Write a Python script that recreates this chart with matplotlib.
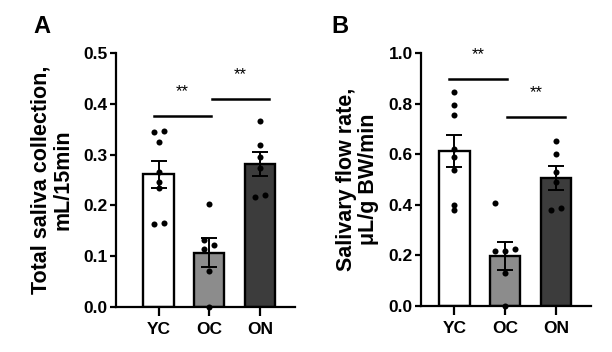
import numpy as np
import matplotlib
matplotlib.use("Agg")
import matplotlib.pyplot as plt

plt.rcParams['font.family'] = ['Liberation Sans', 'DejaVu Sans']
plt.rcParams['font.weight'] = 'bold'

# -----------------------------
# Data
# -----------------------------
groups = ['YC', 'OC', 'ON']
bar_colors = ['#ffffff', '#8c8c8c', '#3c3c3c']

# Panel A: total saliva collection (mL/15min)
a_yc = [0.344, 0.346, 0.324, 0.266, 0.247, 0.234, 0.163, 0.165]
a_oc = [0.203, 0.132, 0.122, 0.114, 0.070, 0.0]
a_on = [0.367, 0.319, 0.295, 0.273, 0.217, 0.220]
a_means = [0.261, 0.107, 0.282]
a_sem = [0.027, 0.028, 0.024]
a_jit = [[-0.1, 0.1, 0, 0, 0, 0, -0.1, 0.1],
         [0, -0.1, 0.1, -0.1, 0, 0],
         [0, 0, 0, 0, -0.1, 0.1]]

# Panel B: salivary flow rate (uL/g BW/min)
b_yc = [0.846, 0.795, 0.756, 0.620, 0.588, 0.538, 0.400, 0.380]
b_oc = [0.406, 0.219, 0.224, 0.219, 0.132, 0.0]
b_on = [0.654, 0.600, 0.531, 0.492, 0.380, 0.387]
b_means = [0.613, 0.198, 0.506]
b_sem = [0.062, 0.054, 0.046]
b_jit = [[0, 0, 0, 0, 0, 0, 0, 0],
         [-0.2, 0, 0.2, -0.2, 0, 0],
         [0, 0, 0, 0, -0.1, 0.1]]

# -----------------------------
# Figure
# -----------------------------
fig = plt.figure(figsize=(6.12, 3.52), dpi=100)
axA = fig.add_axes([0.1895, 0.128, 0.2925, 0.721])
axB = fig.add_axes([0.688, 0.1307, 0.278, 0.718])


def draw_panel(ax, points, means, sems, jit, ymax, step, xlim, ylabel, labelpad):
    x = np.arange(len(groups))
    ax.bar(x, means, width=0.6, color=bar_colors, edgecolor='black',
           linewidth=1.7, zorder=1)
    ax.errorbar(x, means, yerr=sems, fmt='none', ecolor='black',
                elinewidth=1.4, capsize=5.8, capthick=1.4, zorder=3)
    for i, pts in enumerate(points):
        ax.scatter(np.array(jit[i]) + i, pts, s=19, color='black',
                   linewidths=0, zorder=4, clip_on=False)
    ax.set_xlim(*xlim)
    ax.set_ylim(0, ymax)
    ticks = np.arange(0, ymax + step / 2, step)
    ax.set_yticks(ticks)
    ax.set_yticklabels([f"{v:.1f}" for v in ticks])
    ax.set_xticks(x)
    ax.set_xticklabels(groups)
    for s in ['top', 'right']:
        ax.spines[s].set_visible(False)
    for s in ['left', 'bottom']:
        ax.spines[s].set_linewidth(1.6)
    ax.tick_params(width=1.6, length=4.5, labelsize=12.5, pad=1.5)
    ax.tick_params(axis='x', length=6.5, pad=4)
    ax.set_ylabel(ylabel, fontsize=15.5, fontweight='bold', labelpad=labelpad,
                  linespacing=1.05)


draw_panel(axA, [a_yc, a_oc, a_on], a_means, a_sem, a_jit, 0.5, 0.1,
           (-0.84, 2.69), "Total saliva collection,\nmL/15min", 7)
draw_panel(axB, [b_yc, b_oc, b_on], b_means, b_sem, b_jit, 1.0, 0.2,
           (-0.655, 2.69), "Salivary flow rate,\nμL/g BW/min", 7)

# significance lines
def sig(ax, x0, x1, y, ty):
    ax.plot([x0, x1], [y, y], color='black', lw=1.8, clip_on=False)
    ax.text((x0 + x1) / 2, ty, "**", ha='center', va='center',
            fontsize=12, fontweight='normal', clip_on=False)

sig(axA, -0.1, 1.03, 0.377, 0.425)
sig(axA, 1.05, 2.17, 0.41, 0.458)
sig(axB, -0.1, 1.03, 0.90, 0.996)
sig(axB, 1.03, 2.17, 0.749, 0.845)

fig.text(0.054, 0.925, "A", fontsize=17, fontweight='bold', va='center')
fig.text(0.541, 0.925, "B", fontsize=17, fontweight='bold', va='center')

fig.savefig("out.png", dpi=100)
